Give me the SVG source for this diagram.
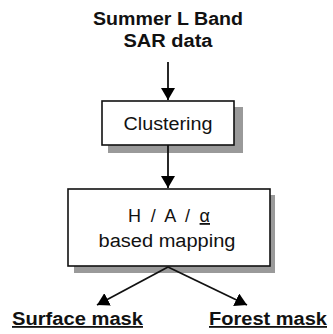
<svg xmlns="http://www.w3.org/2000/svg" width="333" height="334" viewBox="0 0 333 334">
  <defs>
    <marker id="ah" markerUnits="userSpaceOnUse" markerWidth="16" markerHeight="14" refX="12" refY="7" orient="auto">
      <path d="M0,0 L12,7 L0,14 Z" fill="#000"/>
    </marker>
  </defs>
  <style>
    .t { font-family: "Liberation Sans", Arial, sans-serif; fill: #111; }
    .b { font-weight: bold; }
    .box { fill: #fff; stroke: #111; stroke-width: 1.6; }
    .sh { fill: #9a9a9a; }
    .ln { stroke: #111; stroke-width: 1.8; fill: none; marker-end: url(#ah); }
  </style>
  <rect width="333" height="334" fill="#fff"/>
  <g id="input">
    <text class="t b" x="168" y="25" font-size="18" text-anchor="middle" textLength="150" lengthAdjust="spacingAndGlyphs">Summer L Band</text>
    <text class="t b" x="168" y="47" font-size="18" text-anchor="middle" textLength="89" lengthAdjust="spacingAndGlyphs">SAR data</text>
  </g>
  <g id="clustering">
    <rect class="sh" x="108" y="107" width="135" height="46"/>
    <rect class="box" x="102" y="101" width="132" height="44"/>
    <text class="t" x="168" y="130" font-size="18" text-anchor="middle" textLength="89" lengthAdjust="spacingAndGlyphs">Clustering</text>
  </g>
  <g id="mapping">
    <rect class="sh" x="74" y="195" width="201" height="78"/>
    <rect class="box" x="68" y="189" width="202" height="77"/>
    <text class="t" x="169" y="222" font-size="18" text-anchor="middle" textLength="82" lengthAdjust="spacing">H / A / <tspan text-decoration="underline">α</tspan></text>
    <text class="t" x="167" y="247" font-size="18" text-anchor="middle" textLength="137" lengthAdjust="spacingAndGlyphs">based mapping</text>
  </g>
  <g id="surface">
    <text class="t b" x="12" y="325" font-size="18" text-decoration="underline" textLength="131" lengthAdjust="spacingAndGlyphs">Surface mask</text>
  </g>
  <g id="forest">
    <text class="t b" x="209" y="325" font-size="18" text-decoration="underline" textLength="118" lengthAdjust="spacingAndGlyphs">Forest mask</text>
  </g>
  <g id="connectors">
    <line class="ln" x1="168" y1="62" x2="168" y2="100"/>
    <line class="ln" x1="168" y1="145" x2="168" y2="188"/>
    <line class="ln" x1="168" y1="267" x2="97" y2="305"/>
    <line class="ln" x1="168" y1="267" x2="247" y2="305"/>
  </g>
</svg>
